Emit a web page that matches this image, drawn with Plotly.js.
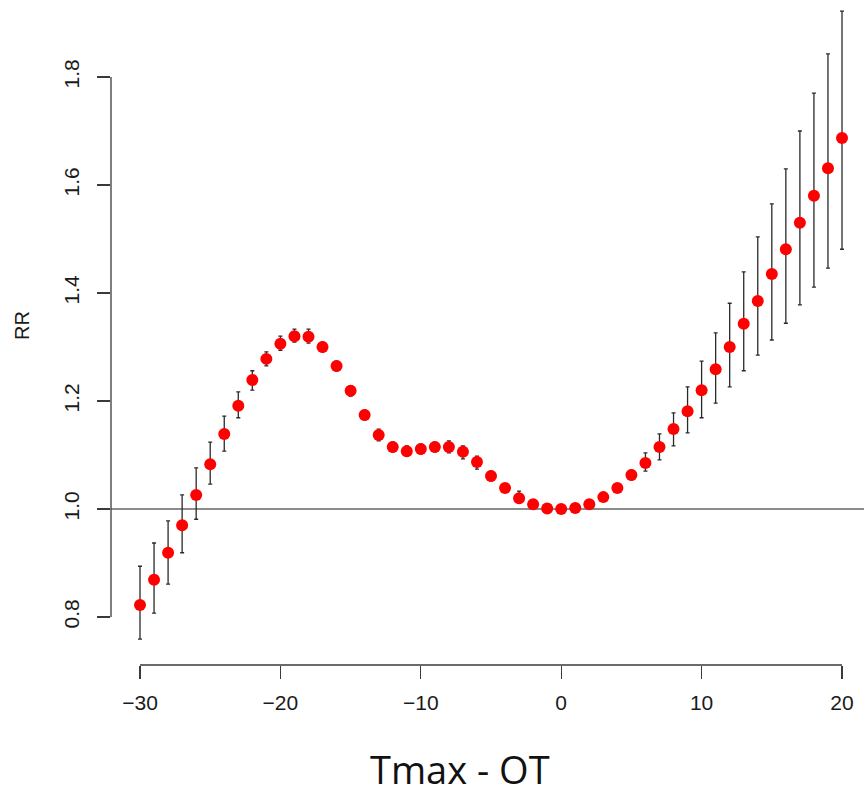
<!DOCTYPE html>
<html>
<head>
<meta charset="utf-8">
<script src="https://cdn.plot.ly/plotly-3.0.1.min.js"></script>
<style>
  html, body { margin: 0; padding: 0; background: #fff; }
  #chart { width: 864px; height: 796px; }
</style>
</head>
<body>
<div id="chart"></div>
<script>
// Temperature difference (Tmax - OT), degrees
const tdiff = [-30, -29, -28, -27, -26, -25, -24, -23, -22, -21,
               -20, -19, -18, -17, -16, -15, -14, -13, -12, -11,
               -10, -9, -8, -7, -6, -5, -4, -3, -2, -1,
               0, 1, 2, 3, 4, 5, 6, 7, 8, 9,
               10, 11, 12, 13, 14, 15, 16, 17, 18, 19, 20];

// Relative risk point estimates
const rr = [0.822, 0.869, 0.919, 0.970, 1.026, 1.083, 1.139, 1.191, 1.239, 1.278,
            1.306, 1.320, 1.319, 1.300, 1.265, 1.219, 1.174, 1.137, 1.115, 1.107,
            1.111, 1.115, 1.115, 1.106, 1.087, 1.061, 1.039, 1.020, 1.009, 1.001,
            1.000, 1.002, 1.009, 1.022, 1.039, 1.063, 1.085, 1.115, 1.148, 1.181,
            1.220, 1.259, 1.300, 1.343, 1.385, 1.435, 1.481, 1.530, 1.580, 1.631, 1.687];

// Upper confidence limits
const rrUpper = [0.894, 0.937, 0.978, 1.026, 1.076, 1.124, 1.172, 1.217, 1.256, 1.291,
                 1.320, 1.333, 1.333, 1.309, 1.274, 1.228, 1.183, 1.148, 1.124, 1.117,
                 1.120, 1.124, 1.126, 1.117, 1.098, 1.070, 1.046, 1.033, 1.015, 1.003,
                 1.000, 1.004, 1.014, 1.028, 1.046, 1.072, 1.104, 1.139, 1.178, 1.226,
                 1.274, 1.326, 1.381, 1.439, 1.504, 1.565, 1.630, 1.700, 1.770, 1.843, 1.922];

// Lower confidence limits
const rrLower = [0.759, 0.807, 0.861, 0.919, 0.981, 1.046, 1.107, 1.169, 1.220, 1.265,
                 1.294, 1.309, 1.307, 1.291, 1.256, 1.209, 1.165, 1.126, 1.106, 1.098,
                 1.102, 1.106, 1.104, 1.093, 1.074, 1.052, 1.031, 1.011, 1.004, 0.999,
                 1.000, 1.000, 1.005, 1.017, 1.032, 1.054, 1.070, 1.091, 1.117, 1.141,
                 1.169, 1.196, 1.226, 1.256, 1.285, 1.313, 1.344, 1.378, 1.411, 1.446, 1.481];

const xTicks = [-30, -20, -10, 0, 10, 20];
const yTicks = [0.8, 1.0, 1.2, 1.4, 1.6, 1.8];
const yTickText = ['0.8', '1.0', '1.2', '1.4', '1.6', '1.8'];

const errPlus = rr.map((v, i) => rrUpper[i] - v);
const errMinus = rr.map((v, i) => v - rrLower[i]);

const axisColor = '#3a3a3a';
const labelFont = { family: 'Liberation Sans, Arial, sans-serif', size: 21, color: '#1a1a1a' };

const trace = {
  type: 'scatter',
  mode: 'markers',
  x: tdiff,
  y: rr,
  marker: { color: '#ff0000', size: 12, line: { width: 0 } },
  error_y: {
    type: 'data',
    symmetric: false,
    array: errPlus,
    arrayminus: errMinus,
    color: '#2a2a2a',
    thickness: 1.3,
    width: 2
  },
  hoverinfo: 'x+y'
};

const layout = {
  width: 864,
  height: 796,
  margin: { l: 111, r: 0, t: 0, b: 131 },
  paper_bgcolor: '#ffffff',
  plot_bgcolor: '#ffffff',
  showlegend: false,
  xaxis: {
    range: [-32.066, 21.566],
    tickmode: 'array',
    tickvals: xTicks,
    ticks: 'outside',
    ticklen: 13,
    tickwidth: 1.3,
    tickcolor: axisColor,
    ticklabelstandoff: 6,
    showgrid: false,
    zeroline: false,
    showline: false,
    tickfont: labelFont,
    fixedrange: true
  },
  yaxis: {
    range: [0.7111, 1.9426],
    tickmode: 'array',
    tickvals: yTicks,
    ticktext: yTickText,
    tickangle: -90,
    ticks: 'outside',
    ticklen: 13,
    tickwidth: 1.3,
    tickcolor: axisColor,
    ticklabelstandoff: 10,
    showgrid: false,
    zeroline: false,
    showline: false,
    tickfont: labelFont,
    fixedrange: true
  },
  shapes: [
    // reference line at RR = 1
    { type: 'line', xref: 'paper', yref: 'y', x0: 0, x1: 1, y0: 1, y1: 1,
      line: { color: '#8c8c8c', width: 2 }, layer: 'below' },
    // y axis line spanning the tick range
    { type: 'line', xref: 'paper', yref: 'y', x0: 0, x1: 0, y0: 0.8, y1: 1.8,
      line: { color: axisColor, width: 1.3 } },
    // x axis line spanning the tick range
    { type: 'line', xref: 'x', yref: 'paper', x0: -30, x1: 20, y0: 0, y1: 0,
      line: { color: axisColor, width: 1.3 } }
  ],
  annotations: [
    { text: 'RR', xref: 'paper', yref: 'y', x: 0, y: 1.339, xanchor: 'center', yanchor: 'middle',
      xshift: -89, textangle: -90, showarrow: false,
      font: { family: 'Liberation Sans, Arial, sans-serif', size: 20, color: '#1a1a1a' } },
    { text: 'Tmax - OT', xref: 'x', yref: 'paper', x: -7.2, y: 0, xanchor: 'center', yanchor: 'middle',
      yshift: -104, showarrow: false,
      font: { family: 'Open Sans, Liberation Sans, sans-serif', size: 38, color: '#111111' } }
  ]
};

Plotly.newPlot('chart', [trace], layout, { displayModeBar: false, staticPlot: true });
</script>
</body>
</html>
